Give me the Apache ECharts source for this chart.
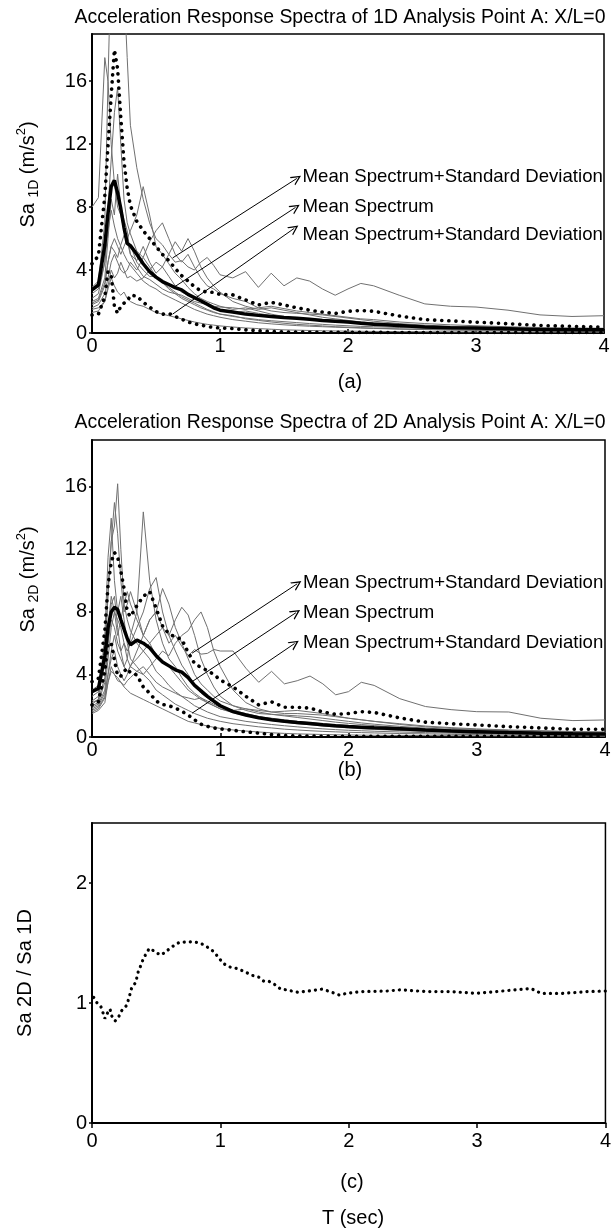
<!DOCTYPE html>
<html>
<head>
<meta charset="utf-8">
<script src="https://cdn.jsdelivr.net/npm/echarts@6/dist/echarts.min.js"></script>
<style>
html, body { margin: 0; padding: 0; background: #fff; }
#main { width: 614px; height: 1229px; }
</style>
</head>
<body>
<div id="main"></div>
<script>
// periods (sec) shared by panels (a) and (b)
var periods = [0, 0.05, 0.1,
    0.125, 0.15, 0.175, 0.2, 0.225, 0.25, 0.275, 0.3,
    0.35, 0.4, 0.45, 0.5, 0.55, 0.6, 0.65, 0.7, 0.75, 0.8, 0.85, 0.9, 0.95, 1.0,
    1.1, 1.2, 1.3, 1.4, 1.5, 1.6, 1.7, 1.8, 1.9, 2.0, 2.1, 2.2,
    2.4, 2.6, 2.8, 3.0,
    3.25, 3.5, 3.75, 4.0];

// ---- (a) 1D analysis ----
var meanA = [2.74, 3.05, 5.6,
    7.6, 9.3, 9.7, 8.9, 7.9, 6.7, 5.7, 5.55,
    5.0, 4.4, 3.9, 3.55, 3.27, 3.08, 2.88, 2.74, 2.45, 2.25, 2.05, 1.83, 1.6, 1.45,
    1.33, 1.2, 1.12, 1.05, 0.98, 0.93, 0.87, 0.8, 0.75, 0.7, 0.62, 0.55,
    0.47, 0.38, 0.34, 0.31,
    0.27, 0.23, 0.21, 0.2];
var upperA = [4.4, 4.9, 8.7,
    11.9, 15.1, 18.0, 16.8, 13.7, 10.9, 9.2, 8.1,
    7.1, 6.5, 6.0, 5.5, 5.0, 4.6, 4.1, 3.65, 3.3, 2.95, 2.68, 2.6, 2.58, 2.45,
    2.42, 2.1, 1.78, 1.95, 1.78, 1.6, 1.45, 1.33, 1.24, 1.38, 1.43, 1.38,
    1.08, 0.85, 0.77, 0.69,
    0.59, 0.48, 0.42, 0.37];
var lowerA = [1.14, 1.2, 2.3,
    3.9, 3.7, 1.7, 1.25, 1.7, 1.9, 2.0, 2.4,
    2.35, 1.95, 1.65, 1.36, 1.19, 1.25, 1.05, 0.88, 0.7, 0.58, 0.5, 0.42, 0.35, 0.32,
    0.28, 0.2, 0.14, 0.1, 0.07, 0.06, 0.05, 0.05, 0.04, 0.04, 0.04, 0.04,
    0.03, 0.03, 0.03, 0.03,
    0.03, 0.03, 0.03, 0.03];
var recordsA = [
    [8.0, 8.6, 17.5,
     16.0, 12.0, 9.5, 8.0, 7.5, 6.5, 5.8, 5.6,
     4.5, 4.0, 3.6, 3.6, 3.2, 2.9, 2.6, 2.3, 2.1, 1.9, 1.7, 1.5, 1.35, 1.2,
     1.1, 0.9, 0.8, 0.7, 0.62, 0.55, 0.5, 0.45, 0.4, 0.37, 0.34, 0.31,
     0.26, 0.22, 0.19, 0.17,
     0.15, 0.13, 0.12, 0.11],
    [2.9, 3.3, 7.0,
     16, 24, 28, 26, 24, 22, 17.5, 13.2,
     10.5, 8.5, 7.0, 6.0, 5.6, 5.0, 4.5, 4.6, 4.2, 4.0, 4.5, 4.8, 4.3, 3.7,
     3.5, 3.9, 2.9, 3.8, 3.0, 3.5, 3.3, 2.8, 2.4, 2.8, 3.15, 3.0,
     2.4, 1.85, 1.7, 1.65,
     1.45, 1.15, 1.05, 1.1],
    [2.2, 2.5, 4.5,
     8.0, 11.0, 14.0, 15.6, 12.0, 8.5, 7.0, 6.3,
     5.2, 4.8, 4.2, 3.6, 3.2, 2.8, 2.5, 2.2, 2.0, 1.8, 1.6, 1.45, 1.3, 1.2,
     1.05, 0.95, 0.85, 0.78, 0.72, 0.66, 0.6, 0.55, 0.5, 0.46, 0.42, 0.4,
     0.35, 0.3, 0.27, 0.24,
     0.21, 0.19, 0.17, 0.16],
    [2.0, 2.2, 3.5,
     6.0, 8.5, 7.5, 10.1, 8.0, 7.2, 6.5, 5.0,
     4.6, 5.5, 4.5, 3.8, 4.2, 3.6, 3.0, 2.6, 2.4, 2.2, 2.0, 1.9, 1.7, 1.5,
     1.3, 1.4, 1.25, 1.1, 1.0, 0.95, 0.9, 0.85, 0.8, 0.75, 0.7, 0.62,
     0.5, 0.42, 0.36, 0.32,
     0.28, 0.25, 0.22, 0.2],
    [1.8, 2.0, 3.0,
     4.5, 5.5, 6.0, 5.5, 5.0, 5.5, 6.0, 6.5,
     7.5, 9.3, 7.5, 5.5, 5.0, 4.4, 3.8, 3.4, 2.9, 2.5, 2.2, 2.0, 1.85, 1.7,
     1.5, 1.6, 1.4, 1.2, 1.05, 0.95, 0.85, 0.75, 0.7, 0.65, 0.6, 0.55,
     0.45, 0.38, 0.33, 0.3,
     0.26, 0.23, 0.2, 0.18],
    [1.6, 1.8, 2.5,
     3.5, 4.5, 5.0, 4.5, 4.0, 3.8, 4.0, 4.5,
     4.0, 4.8, 5.8, 6.5, 7.0, 6.0, 5.0, 4.5, 5.0, 4.2, 3.5, 3.0, 2.8, 2.5,
     2.2, 2.0, 1.6, 1.4, 1.3, 1.25, 1.2, 1.15, 1.05, 0.95, 0.85, 0.75,
     0.6, 0.5, 0.42, 0.37,
     0.32, 0.28, 0.25, 0.22],
    [1.5, 1.6, 2.0,
     3.0, 4.0, 3.5, 3.8, 4.5, 4.0, 3.5, 3.6,
     3.3, 3.5, 4.0, 4.5, 4.2, 5.0, 5.8, 5.2, 6.0, 5.2, 4.2, 3.5, 3.0, 2.6,
     2.0, 1.7, 1.5, 1.6, 1.45, 1.3, 1.15, 1.0, 0.9, 0.8, 0.7, 0.65,
     0.55, 0.45, 0.38, 0.33,
     0.29, 0.26, 0.23, 0.2],
    [1.3, 1.4, 2.0,
     2.8, 3.5, 3.0, 2.6, 2.4, 2.6, 2.2, 2.0,
     1.8, 1.7, 1.5, 1.3, 1.2, 1.1, 1.0, 0.9, 0.8, 0.7, 0.62, 0.55, 0.5, 0.45,
     0.38, 0.32, 0.28, 0.24, 0.2, 0.18, 0.16, 0.14, 0.13, 0.12, 0.11, 0.1,
     0.09, 0.08, 0.07, 0.07,
     0.06, 0.06, 0.05, 0.05],
    [2.5, 2.8, 4.5,
     6.5, 7.8, 6.8, 6.0, 5.5, 5.0, 4.6, 4.3,
     3.8, 3.3, 3.0, 2.8, 2.5, 2.3, 2.1, 1.9, 1.7, 1.5, 1.35, 1.2, 1.1, 1.0,
     0.85, 0.75, 0.65, 0.58, 0.52, 0.47, 0.43, 0.4, 0.37, 0.34, 0.31, 0.29,
     0.25, 0.22, 0.2, 0.18,
     0.16, 0.15, 0.14, 0.13],
    [1.9, 2.1, 3.2,
     4.5, 5.5, 5.2, 4.8, 5.6, 6.2, 5.8, 5.0,
     4.2, 3.6, 3.4, 3.1, 2.8, 2.6, 2.5, 2.4, 2.2, 2.0, 1.9, 1.8, 1.7, 1.65,
     1.6, 1.5, 1.6, 1.7, 1.55, 1.4, 1.3, 1.2, 1.1, 1.0, 0.9, 0.85,
     0.7, 0.6, 0.52, 0.46,
     0.4, 0.35, 0.32, 0.3]
];

// ---- (b) 2D analysis ----
var meanB = [2.9, 3.1, 5.2,
    7.0, 8.0, 8.3, 8.15, 7.5, 6.9, 6.3, 5.9,
    6.2, 6.0, 5.7, 5.2, 4.8, 4.55, 4.3, 4.15, 3.8, 3.3, 2.95, 2.6, 2.3, 2.0,
    1.62, 1.41, 1.23, 1.1, 1.01, 0.93, 0.86, 0.78, 0.72, 0.67, 0.63, 0.59,
    0.53, 0.45, 0.38, 0.34,
    0.28, 0.24, 0.21, 0.19];
var upperB = [3.54, 3.75, 6.8,
    9.7, 11.2, 11.8, 11.5, 10.6, 9.5, 8.0, 7.7,
    8.4, 9.0, 9.3, 8.24, 7.1, 6.6, 6.4, 6.25, 5.4, 4.7, 4.45, 4.25, 4.0, 3.65,
    3.2, 2.6, 2.05, 2.25, 1.9, 1.9, 1.85, 1.6, 1.45, 1.5, 1.62, 1.57,
    1.22, 0.95, 0.85, 0.77,
    0.66, 0.58, 0.5, 0.49];
var lowerB = [2.05, 2.26, 4.2,
    6.0, 6.0, 4.9, 3.9, 3.9, 4.2, 4.4, 4.1,
    3.97, 3.2, 2.8, 2.3, 2.08, 2.0, 1.85, 1.65, 1.4, 1.1, 0.82, 0.68, 0.58, 0.52,
    0.43, 0.33, 0.25, 0.16, 0.1, 0.07, 0.06, 0.05, 0.05, 0.05, 0.05, 0.05,
    0.05, 0.05, 0.05, 0.05,
    0.05, 0.05, 0.05, 0.05];
var recordsB = [
    [2.3, 2.6, 5.0,
     9.5, 12.5, 13.5, 16.2, 12.0, 8.5, 7.5, 6.8,
     6.0, 5.5, 5.0, 4.2, 3.8, 3.3, 2.9, 2.6, 2.3, 2.0, 1.8, 1.6, 1.45, 1.3,
     1.15, 1.0, 0.9, 0.8, 0.72, 0.65, 0.58, 0.52, 0.47, 0.43, 0.4, 0.37,
     0.32, 0.28, 0.25, 0.22,
     0.2, 0.18, 0.16, 0.15],
    [2.1, 2.4, 6.5,
     11.5, 14.0, 10.0, 8.0, 9.0, 7.5, 6.0, 5.0,
     4.5, 4.0, 3.6, 3.0, 2.7, 2.4, 2.1, 1.9, 1.7, 1.5, 1.35, 1.2, 1.1, 1.0,
     0.85, 0.75, 0.65, 0.58, 0.5, 0.45, 0.4, 0.36, 0.33, 0.3, 0.28, 0.26,
     0.22, 0.2, 0.17, 0.15,
     0.13, 0.12, 0.11, 0.1],
    [2.6, 2.9, 5.5,
     9.0, 12.5, 15.0, 13.0, 10.0, 8.0, 8.5, 9.3,
     8.0, 6.5, 6.0, 5.2, 4.8, 4.5, 4.0, 3.5, 3.0, 2.7, 2.4, 2.2, 2.0, 1.8,
     1.6, 1.45, 1.3, 1.2, 1.1, 1.0, 0.92, 0.85, 0.78, 0.72, 0.66, 0.6,
     0.5, 0.43, 0.38, 0.33,
     0.29, 0.26, 0.23, 0.21],
    [2.0, 2.2, 3.5,
     6.0, 8.5, 9.0, 7.0, 5.5, 4.5, 5.0, 6.5,
     8.0, 14.4, 10.0, 7.5, 6.0, 5.0, 4.5, 3.8, 3.2, 2.8, 2.5, 2.2, 2.0, 1.8,
     1.55, 1.35, 1.2, 1.05, 0.95, 0.85, 0.78, 0.7, 0.64, 0.58, 0.53, 0.49,
     0.42, 0.36, 0.32, 0.28,
     0.25, 0.22, 0.2, 0.18],
    [1.9, 2.1, 3.0,
     5.0, 7.0, 8.0, 7.5, 7.0, 6.0, 5.5, 6.0,
     7.0, 8.0, 9.5, 10.2, 8.0, 6.5, 5.5, 4.6, 4.0, 3.3, 2.8, 2.5, 2.2, 2.0,
     1.7, 1.5, 1.3, 1.15, 1.05, 0.95, 0.87, 0.8, 0.73, 0.67, 0.61, 0.56,
     0.47, 0.4, 0.35, 0.31,
     0.27, 0.24, 0.21, 0.19],
    [1.7, 1.9, 2.6,
     4.0, 5.5, 6.5, 5.5, 5.0, 4.5, 4.2, 4.5,
     5.5, 6.5, 7.5, 8.0, 9.5, 8.5, 7.0, 6.0, 5.0, 4.0, 3.4, 3.0, 2.6, 2.3,
     2.0, 1.8, 1.6, 1.45, 1.35, 1.25, 1.15, 1.05, 0.95, 0.87, 0.8, 0.73,
     0.6, 0.5, 0.44, 0.39,
     0.34, 0.3, 0.27, 0.24],
    [1.8, 2.0, 2.8,
     4.0, 5.0, 5.5, 4.5, 4.0, 3.6, 4.0, 4.6,
     5.0, 5.5, 6.0, 6.5, 7.0, 6.5, 7.5, 8.3, 7.8, 6.5, 5.0, 4.0, 3.2, 2.6,
     2.0, 1.7, 1.5, 1.45, 1.4, 1.35, 1.3, 1.2, 1.1, 1.0, 0.9, 0.82,
     0.68, 0.57, 0.48, 0.42,
     0.36, 0.32, 0.28, 0.25],
    [1.5, 1.7, 2.2,
     3.5, 4.2, 4.0, 3.8, 3.5, 3.3, 3.6, 3.8,
     4.2, 4.0, 4.5, 5.0, 5.5, 5.2, 6.0, 6.5, 6.8, 7.5, 8.0, 7.0, 5.5, 4.5,
     3.0, 2.2, 1.8, 1.6, 1.5, 1.5, 1.45, 1.4, 1.3, 1.2, 1.1, 1.0,
     0.85, 0.7, 0.6, 0.52,
     0.45, 0.4, 0.35, 0.32],
    [3.0, 3.3, 4.5,
     7.0, 9.0, 8.0, 6.5, 7.5, 8.5, 9.3, 8.5,
     7.5, 6.5, 7.5, 8.0, 7.0, 6.0, 6.5, 5.8, 5.2, 5.6, 5.3, 5.35, 5.6, 5.5,
     5.5, 4.4, 3.5, 4.2, 3.4, 3.6, 3.9, 3.4, 2.7, 2.9, 3.5, 3.3,
     2.45, 1.95, 1.75, 1.62,
     1.6, 1.2, 1.05, 1.09],
    [1.6, 1.8, 2.5,
     3.5, 4.5, 4.0, 3.6, 3.5, 3.2, 3.0, 2.8,
     2.6, 2.4, 2.2, 2.0, 1.8, 1.6, 1.4, 1.2, 1.0, 0.9, 0.8, 0.7, 0.62, 0.55,
     0.45, 0.38, 0.32, 0.27, 0.23, 0.2, 0.18, 0.16, 0.14, 0.13, 0.12, 0.11,
     0.1, 0.09, 0.08, 0.07,
     0.07, 0.06, 0.06, 0.05],
    [2.2, 2.4, 3.8,
     6.0, 7.5, 7.0, 6.0, 5.5, 6.0, 5.0, 4.5,
     4.2, 4.5, 4.0, 3.5, 3.2, 3.0, 2.8, 2.6, 2.5, 2.4, 2.5, 2.3, 2.1, 1.9,
     1.7, 1.8, 1.7, 1.6, 1.65, 1.7, 1.6, 1.5, 1.35, 1.2, 1.1, 1.0,
     0.8, 0.65, 0.55, 0.48,
     0.42, 0.37, 0.33, 0.3]
];

// ---- (c) ratio Sa2D / Sa1D ----
var ratioT = [0.013, 0.04, 0.07, 0.085, 0.1, 0.117, 0.14, 0.155, 0.18, 0.21, 0.23, 0.27, 0.29, 0.31,
    0.34, 0.36, 0.385, 0.4, 0.446, 0.49, 0.53, 0.57, 0.6, 0.64, 0.68, 0.75, 0.82, 0.86, 0.9, 0.94,
    0.97, 1.0, 1.03, 1.075, 1.12, 1.17, 1.25, 1.3, 1.34, 1.38, 1.43, 1.47, 1.51, 1.6, 1.69, 1.79,
    1.84, 1.93, 1.98, 2.1, 2.3, 2.41, 2.6, 2.8, 2.99, 3.2, 3.42, 3.5, 3.66, 3.87, 4.0];
var ratioC = [1.047, 1.0, 0.967, 0.92, 0.87, 0.91, 0.95, 0.89, 0.85, 0.89, 0.935, 0.98, 1.05, 1.13,
    1.17, 1.26, 1.325, 1.37, 1.455, 1.43, 1.40, 1.42, 1.45, 1.48, 1.505, 1.51, 1.505, 1.49, 1.465, 1.435,
    1.40, 1.36, 1.325, 1.30, 1.29, 1.27, 1.23, 1.215, 1.18, 1.18, 1.15, 1.115, 1.11, 1.09, 1.10, 1.115,
    1.10, 1.065, 1.08, 1.095, 1.10, 1.11, 1.095, 1.095, 1.08, 1.1, 1.12, 1.08, 1.08, 1.095, 1.10];

// tick labels
var spectraTicks = ['0', '4', '8', '12', '16'];
var ratioTicks = ['0', '1', '2'];
var periodTicks = ['0', '1', '2', '3', '4'];

// annotation arrows: [from T, from Sa, to T, to Sa]
var arrowsA = [[0.63, 4.77, 1.6, 9.82], [0.65, 2.96, 1.59, 7.98], [0.63, 1.2, 1.58, 6.65]];
var arrowsB = [[0.78, 5.36, 1.6, 9.8], [0.78, 3.54, 1.59, 7.95], [0.78, 1.52, 1.58, 5.98]];
var noteNames = ['Mean Spectrum+Standard Deviation', 'Mean Spectrum', 'Mean Spectrum+Standard Deviation'];
var notesA = [[1.645, 9.89], [1.645, 8.03], [1.645, 6.24]];
var notesB = [[1.645, 9.86], [1.645, 7.94], [1.645, 6.02]];

var FONT = '"Liberation Sans", Arial, Helvetica, sans-serif';
// open arrow head, tip pointing up (markLine turns it along the line)
var HEAD = 'path://M0,10 L5,0 L10,10 L8.6,10 L5,2.9 L1.4,10 Z';

function pairs(xs, ys) {
    return xs.map(function (x, i) { return [x, ys[i]]; });
}

var series = [];

function addPanel(idx, records, mean, upper, lower, arrows, notes) {
    records.forEach(function (r) {
        series.push({
            type: 'line', xAxisIndex: idx, yAxisIndex: idx,
            data: pairs(periods, r),
            symbol: 'none', silent: true, z: 2,
            lineStyle: { color: '#707070', width: 1 }
        });
    });
    [upper, lower].forEach(function (d) {
        series.push({
            type: 'line', xAxisIndex: idx, yAxisIndex: idx,
            data: pairs(periods, d),
            symbol: 'none', silent: true, z: 4,
            lineStyle: { color: '#000', width: 3.6, type: [0.1, 7], cap: 'round' }
        });
    });
    series.push({
        type: 'line', xAxisIndex: idx, yAxisIndex: idx,
        data: pairs(periods, mean),
        symbol: 'none', silent: true, z: 5,
        lineStyle: { color: '#000', width: 3.5 },
        markLine: {
            silent: true,
            symbol: ['none', HEAD],
            symbolSize: 10,
            label: { show: false },
            lineStyle: { color: '#000', width: 1, type: 'solid', opacity: 1 },
            data: arrows.map(function (a) {
                return [{ coord: [a[0], a[1]] }, { coord: [a[2], a[3]] }];
            })
        }
    });
    series.push({
        type: 'scatter', xAxisIndex: idx, yAxisIndex: idx,
        data: notes.map(function (n, i) { return [n[0], n[1], noteNames[i]]; }),
        symbolSize: 0, silent: true, z: 6,
        itemStyle: { color: '#000' },
        label: {
            show: true, position: 'right', distance: 0,
            color: '#000', fontSize: 18.6, fontFamily: FONT, opacity: 1,
            formatter: function (p) { return p.data[2]; }
        }
    });
}

addPanel(0, recordsA, meanA, upperA, lowerA, arrowsA, notesA);
addPanel(1, recordsB, meanB, upperB, lowerB, arrowsB, notesB);

series.push({
    type: 'line', xAxisIndex: 2, yAxisIndex: 2,
    data: pairs(ratioT, ratioC),
    symbol: 'none', silent: true, z: 4,
    lineStyle: { color: '#000', width: 3.2, type: [0.1, 6], cap: 'round' }
});

function xAxisOf(idx, inside, margin) {
    return {
        gridIndex: idx, type: 'value', min: 0, max: 4, interval: 1,
        axisLine: { show: true, onZero: false, lineStyle: { color: '#000', width: 2 } },
        axisTick: { show: true, inside: inside, length: inside ? 4 : 5, lineStyle: { color: '#000', width: 1.5 } },
        axisLabel: {
            color: '#000', fontSize: 20, fontFamily: FONT, margin: margin,
            formatter: function (v) { return periodTicks[Math.round(v)]; }
        },
        splitLine: { show: false }
    };
}

function yAxisOf(idx, max, interval, ticks, name, rich, gap) {
    return {
        gridIndex: idx, type: 'value', min: 0, max: max, interval: interval,
        axisLine: { show: true, onZero: false, lineStyle: { color: '#000', width: 2 } },
        axisTick: { show: true, length: 3, lineStyle: { color: '#000', width: 1.5 } },
        axisLabel: {
            color: '#000', fontSize: 20, fontFamily: FONT, margin: 5, showMaxLabel: false,
            formatter: function (v) { var k = Math.round(v / interval); return k * interval === v ? ticks[k] : ''; }
        },
        splitLine: { show: false },
        name: name, nameLocation: 'middle', nameRotate: 90, nameGap: gap,
        nameTextStyle: { color: '#000', fontSize: 20, fontFamily: FONT, rich: rich, padding: rich ? [0, 0, 0, 18] : 0 }
    };
}

function richFor() {
    return {
        t: { fontSize: 20, fontFamily: FONT, color: '#000', lineHeight: 26, verticalAlign: 'middle' },
        s: { fontSize: 14, fontFamily: FONT, color: '#000', lineHeight: 14, verticalAlign: 'bottom' },
        p: { fontSize: 13, fontFamily: FONT, color: '#000', lineHeight: 14, verticalAlign: 'top' }
    };
}

function textAt(x, y, text, size) {
    return {
        type: 'text', x: x, y: y, silent: true,
        style: { text: text, fill: '#000', fontSize: size, fontFamily: FONT, textAlign: 'center', textVerticalAlign: 'middle' }
    };
}

var chart = echarts.init(document.getElementById('main'));

var option = {
    animation: false,
    backgroundColor: '#fff',
    grid: [
        { left: 92, right: 10, top: 34, height: 299, show: true, borderColor: '#000', borderWidth: 1.5, backgroundColor: 'rgba(0,0,0,0)' },
        { left: 92, right: 9, top: 440, height: 297, show: true, borderColor: '#000', borderWidth: 1.5, backgroundColor: 'rgba(0,0,0,0)' },
        { left: 92, right: 7, top: 823, height: 300, show: true, borderColor: '#000', borderWidth: 1.5, backgroundColor: 'rgba(0,0,0,0)' }
    ],
    xAxis: [xAxisOf(0, true, 3), xAxisOf(1, true, 3), xAxisOf(2, false, 8)],
    yAxis: [
        yAxisOf(0, 19, 4, spectraTicks, '{t|Sa }{s|1D}{t| (m/s}{p|2}{t|)}', richFor(), 51),
        yAxisOf(1, 19, 4, spectraTicks, '{t|Sa }{s|2D}{t| (m/s}{p|2}{t|)}', richFor(), 51),
        yAxisOf(2, 2.5, 1, ratioTicks, 'Sa 2D / Sa 1D', null, 57)
    ],
    graphic: [
        textAt(340, 18, 'Acceleration Response Spectra of 1D Analysis Point A: X/L=0', 19.4),
        textAt(350, 382, '(a)', 20),
        textAt(340, 423, 'Acceleration Response Spectra of 2D Analysis Point A: X/L=0', 19.4),
        textAt(350, 770, '(b)', 20),
        textAt(352, 1182, '(c)', 20),
        textAt(353, 1218, 'T (sec)', 20)
    ],
    series: series
};

chart.setOption(option);
</script>
</body>
</html>
